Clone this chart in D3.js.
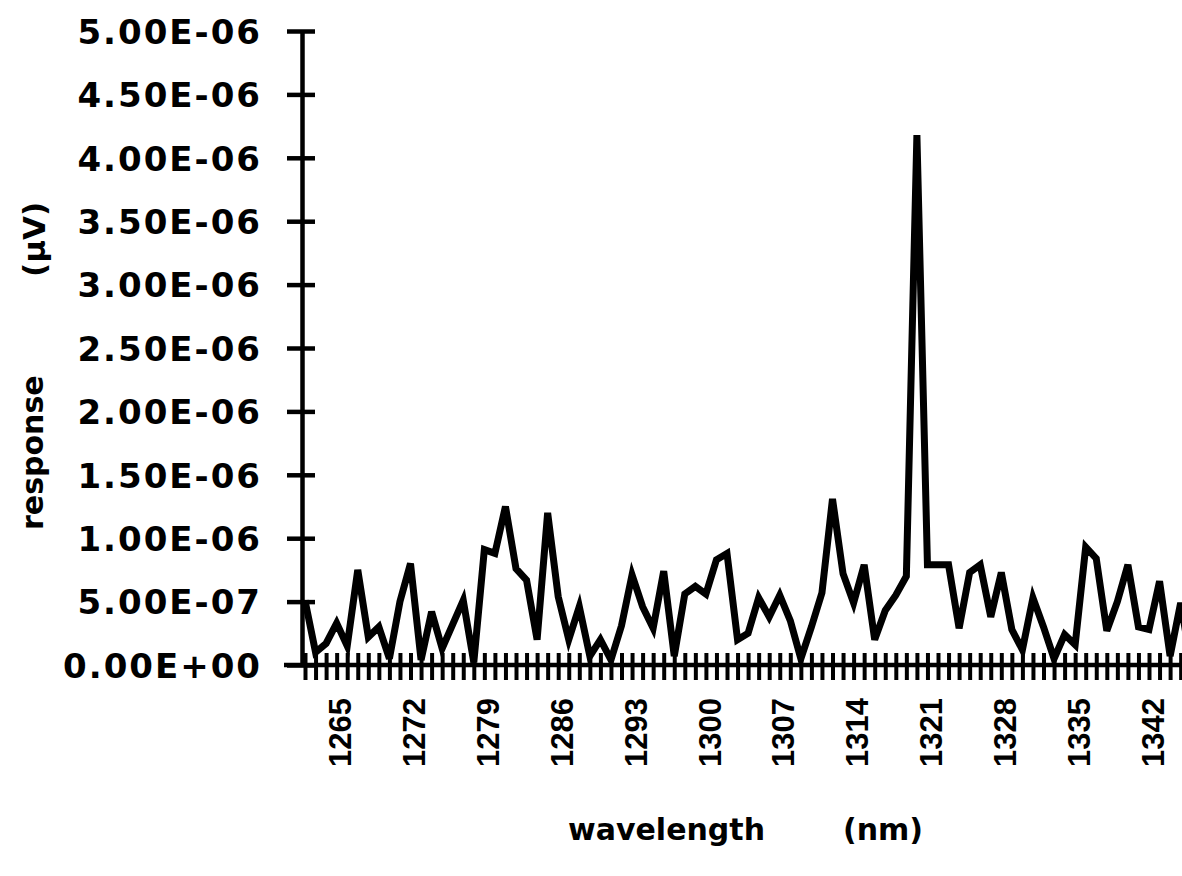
<!DOCTYPE html>
<html>
<head>
<meta charset="utf-8">
<script src="https://cdn.jsdelivr.net/npm/d3@7"></script>
<style>
    body { margin: 0; background: #fff; }
    svg { display: block; }
    text { font-family: "DejaVu Sans", sans-serif; font-weight: bold; fill: #000; }
</style>
</head>
<body>
<div id="chart"></div>
<script>
// wavelength categories (nm)
const wavelengths = [
    1262, 1263, 1264, 1265, 1266, 1267, 1268, 1269, 1270, 1271, 1272, 1273, 1274, 1275,
    1276, 1277, 1278, 1279, 1280, 1281, 1282, 1283, 1284, 1285, 1286, 1287, 1288, 1289,
    1290, 1291, 1292, 1293, 1294, 1295, 1296, 1297, 1298, 1299, 1300, 1301, 1302, 1303,
    1304, 1305, 1306, 1307, 1308, 1309, 1310, 1311, 1312, 1313, 1314, 1315, 1316, 1317,
    1318, 1319, 1320, 1321, 1322, 1323, 1324, 1325, 1326, 1327, 1328, 1329, 1330, 1331,
    1332, 1333, 1334, 1335, 1336, 1337, 1338, 1339, 1340, 1341, 1342, 1343, 1344, 1345, 1346
];

// response, in units of 1E-06
const response = [
    0.51, 0.10, 0.17, 0.33, 0.15, 0.75, 0.22, 0.30, 0.05, 0.50, 0.80, 0.04, 0.42, 0.13,
    0.32, 0.51, 0.02, 0.91, 0.88, 1.25, 0.76, 0.67, 0.20, 1.20, 0.54, 0.20, 0.46, 0.07,
    0.20, 0.04, 0.31, 0.71, 0.46, 0.29, 0.74, 0.07, 0.56, 0.62, 0.56, 0.83, 0.88, 0.20,
    0.25, 0.53, 0.38, 0.55, 0.35, 0.05, 0.30, 0.57, 1.31, 0.72, 0.49, 0.79, 0.20, 0.43,
    0.55, 0.70, 4.18, 0.79, 0.79, 0.79, 0.29, 0.73, 0.79, 0.38, 0.73, 0.28, 0.12, 0.53,
    0.30, 0.05, 0.24, 0.16, 0.93, 0.84, 0.27, 0.50, 0.79, 0.30, 0.28, 0.66, 0.07, 0.49, 0.00
];

const yTickValues = [0, 0.5, 1, 1.5, 2, 2.5, 3, 3.5, 4, 4.5, 5];
const yTickLabels = [
    '0.00E+00', '5.00E-07', '1.00E-06', '1.50E-06', '2.00E-06', '2.50E-06',
    '3.00E-06', '3.50E-06', '4.00E-06', '4.50E-06', '5.00E-06'
];
const xTickLabels = [1265, 1272, 1279, 1286, 1293, 1300, 1307, 1314, 1321, 1328, 1335, 1342];

const width = 1182, height = 876;
const axisX = 302, axisY = 665;

const svg = d3.select('#chart')
    .append('svg')
    .attr('width', width)
    .attr('height', height);

const x = d3.scalePoint()
    .domain(wavelengths)
    .range([305, 305 + 10.55 * (wavelengths.length - 1)]);

const y = d3.scaleLinear()
    .domain([0, 5])
    .range([axisY, 31]);

// y axis
const yAxis = svg.append('g')
    .attr('transform', `translate(${axisX},0)`)
    .call(d3.axisLeft(y)
        .tickValues(yTickValues)
        .tickFormat((d, i) => yTickLabels[i])
        .tickSizeOuter(0)
        .tickSizeInner(14));

yAxis.select('.domain').attr('stroke', '#000').attr('stroke-width', 4.5);
yAxis.selectAll('.tick line')
    .attr('x1', 13).attr('x2', -15)
    .attr('stroke', '#000').attr('stroke-width', 4.5);
yAxis.selectAll('.tick text')
    .attr('x', -40)
    .attr('dy', '0.36em')
    .style('font-size', '34px')
    .style('letter-spacing', '2px')
    .style('font-family', '"DejaVu Sans", sans-serif');

// x axis
const xAxis = svg.append('g')
    .attr('transform', `translate(0,${axisY})`)
    .call(d3.axisBottom(x)
        .tickSizeOuter(0)
        .tickSize(15)
        .tickFormat(d => xTickLabels.includes(d) ? d : ''));

xAxis.select('.domain').remove();
xAxis.append('line')
    .attr('x1', axisX - 18).attr('x2', width)
    .attr('stroke', '#000').attr('stroke-width', 4.5);
xAxis.selectAll('.tick line')
    .attr('y1', -12).attr('y2', 15)
    .attr('stroke', '#000').attr('stroke-width', 4);
xAxis.selectAll('.tick text')
    .attr('transform', 'rotate(-90)')
    .attr('x', -33)
    .attr('y', 3)
    .attr('dy', '0.36em')
    .style('text-anchor', 'end')
    .style('font-size', '31px')
    .style('font-family', '"Liberation Sans", sans-serif');

// response line
const line = d3.line()
    .x((d, i) => x(wavelengths[i]))
    .y(d => y(d));

svg.append('path')
    .datum(response)
    .attr('fill', 'none')
    .attr('stroke', '#000')
    .attr('stroke-width', 7)
    .attr('stroke-linejoin', 'miter')
    .attr('d', line);

// axis titles
svg.append('text')
    .attr('x', 568).attr('y', 840)
    .style('font-size', '30px')
    .text('wavelength');

svg.append('text')
    .attr('x', 843).attr('y', 840)
    .style('font-size', '30px')
    .text('(nm)');

svg.append('text')
    .attr('transform', 'translate(43,530) rotate(-90)')
    .style('font-size', '30px')
    .text('response');

svg.append('text')
    .attr('transform', 'translate(45,277) rotate(-90)')
    .style('font-size', '31px')
    .text('(\u00b5V)');
</script>
</body>
</html>
